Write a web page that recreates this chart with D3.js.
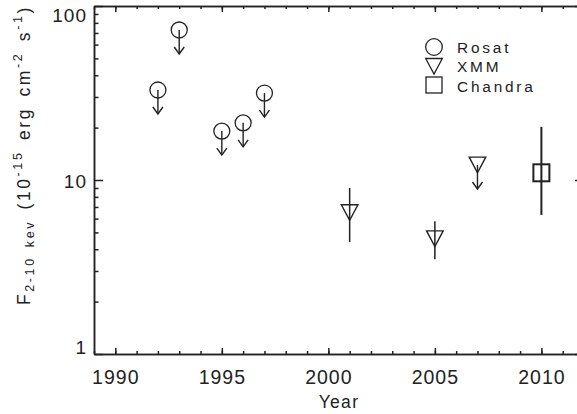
<!DOCTYPE html>
<html>
<head>
<meta charset="utf-8">
<script src="https://cdn.jsdelivr.net/npm/d3@7"></script>
<style>
  body { margin: 0; background: #fff; }
  text { font-family: "Liberation Sans", Arial, sans-serif; fill: #222; }
  .axis path, .axis line { stroke: #222; stroke-width: 1.5; }
</style>
</head>
<body>
<div id="chart"></div>
<script>
// Rosat upper limits
var rosatYear = [1992, 1993, 1995, 1996, 1997];
var rosatFlux = [32.9, 72.8, 19.1, 21.3, 31.6];

// XMM detections, with error range
var xmmYear = [2001, 2005];
var xmmFlux = [6.5, 4.6];
var xmmLow = [4.4, 3.5];
var xmmHigh = [9.0, 5.8];

// XMM upper limit
var xmmLimYear = [2007];
var xmmLimFlux = [12.2];

// Chandra detection
var chandraYear = [2010];
var chandraFlux = [11.0];
var chandraLow = [6.3];
var chandraHigh = [20.2];

var yearTicks = [1990, 1995, 2000, 2005, 2010];
var yearMinor = d3.range(1989, 2013);
var fluxTicks = [1, 10, 100];
var fluxMinor = [2, 3, 4, 5, 6, 7, 8, 9, 20, 30, 40, 50, 60, 70, 80, 90];
var legendNames = ["Rosat", "XMM", "Chandra"];

var margin = {top: 6, left: 94},
    width = 490,
    height = 348;

var svg = d3.select("#chart")
  .append("svg")
  .attr("width", 577)
  .attr("height", 414);

var g = svg.append("g")
  .attr("transform", "translate(" + margin.left + "," + margin.top + ")");

var xScale = d3.scaleLinear()
  .domain([1989, 2012])
  .range([0, width]);

var yScale = d3.scaleLog()
  .domain([1, 100])
  .range([height, 0]);

// bottom axis, labelled
var bottom = g.append("g")
  .attr("class", "axis")
  .attr("transform", "translate(0," + height + ")")
  .call(d3.axisBottom(xScale).tickValues(yearTicks).tickSize(-6).tickSizeOuter(0)
    .tickPadding(16).tickFormat(d3.format("d")));
bottom.selectAll("text")
  .style("font-size", "19.5px")
  .style("letter-spacing", "1px")
  .style("font-family", "Liberation Sans, Arial, sans-serif")
  .attr("fill", "#222");

g.append("g")
  .attr("class", "axis")
  .attr("transform", "translate(0," + height + ")")
  .call(d3.axisBottom(xScale).tickValues(yearMinor).tickSize(-3).tickSizeOuter(0).tickFormat(""));

// top axis
g.append("g")
  .attr("class", "axis")
  .call(d3.axisTop(xScale).tickValues(yearTicks).tickSize(-6).tickSizeOuter(0).tickFormat(""));
g.append("g")
  .attr("class", "axis")
  .call(d3.axisTop(xScale).tickValues(yearMinor).tickSize(-3).tickSizeOuter(0).tickFormat(""));

// left axis, labelled
var left = g.append("g")
  .attr("class", "axis")
  .call(d3.axisLeft(yScale).tickValues(fluxTicks).tickSize(-9).tickSizeOuter(0)
    .tickPadding(7).tickFormat(d3.format("d")));
left.selectAll("text")
  .style("font-size", "19px")
  .style("letter-spacing", "1px")
  .style("font-family", "Liberation Sans, Arial, sans-serif")
  .attr("fill", "#222")
  .attr("y", function (d) { return d == 100 ? 9 : (d == 1 ? -7 : 1); });

g.append("g")
  .attr("class", "axis")
  .call(d3.axisLeft(yScale).tickValues(fluxMinor).tickSize(-4.5).tickSizeOuter(0).tickFormat(""));

// right axis
g.append("g")
  .attr("class", "axis")
  .attr("transform", "translate(" + width + ",0)")
  .call(d3.axisRight(yScale).tickValues(fluxTicks).tickSize(-9).tickSizeOuter(0).tickFormat(""));
g.append("g")
  .attr("class", "axis")
  .attr("transform", "translate(" + width + ",0)")
  .call(d3.axisRight(yScale).tickValues(fluxMinor).tickSize(-4.5).tickSizeOuter(0).tickFormat(""));

var ink = "#222";

// down arrow for upper limits
function arrow(sel, x, y) {
  sel.append("line")
    .attr("x1", x).attr("x2", x)
    .attr("y1", y).attr("y2", y + 24)
    .attr("stroke", ink).attr("stroke-width", 1.4);
  sel.append("path")
    .attr("d", "M" + (x - 5) + "," + (y + 17) + "L" + x + "," + (y + 24) + "L" + (x + 5) + "," + (y + 17))
    .attr("fill", "none").attr("stroke", ink).attr("stroke-width", 1.4);
}

function triangle(x, y) {
  return "M" + (x - 8.3) + "," + (y - 7.8) + "L" + (x + 8.3) + "," + (y - 7.8) + "L" + x + "," + (y + 7.8) + "Z";
}

// Rosat
var marks = g.append("g");
rosatYear.forEach(function (yr, i) {
  var cx = xScale(yr), cy = yScale(rosatFlux[i]);
  marks.append("circle")
    .attr("cx", cx).attr("cy", cy).attr("r", 8)
    .attr("fill", "none").attr("stroke", ink).attr("stroke-width", 1.3);
  arrow(marks, cx, cy);
});

// XMM with error bars
xmmYear.forEach(function (yr, i) {
  var cx = xScale(yr), cy = yScale(xmmFlux[i]);
  marks.append("line")
    .attr("x1", cx).attr("x2", cx)
    .attr("y1", yScale(xmmHigh[i])).attr("y2", yScale(xmmLow[i]))
    .attr("stroke", ink).attr("stroke-width", 1.5);
  marks.append("path")
    .attr("d", triangle(cx, cy))
    .attr("fill", "none").attr("stroke", ink).attr("stroke-width", 1.4);
});

// XMM upper limit
xmmLimYear.forEach(function (yr, i) {
  var cx = xScale(yr), cy = yScale(xmmLimFlux[i]);
  marks.append("path")
    .attr("d", triangle(cx, cy))
    .attr("fill", "none").attr("stroke", ink).attr("stroke-width", 1.4);
  arrow(marks, cx, cy);
});

// Chandra
chandraYear.forEach(function (yr, i) {
  var cx = xScale(yr), cy = yScale(chandraFlux[i]);
  marks.append("line")
    .attr("x1", cx).attr("x2", cx)
    .attr("y1", yScale(chandraHigh[i])).attr("y2", yScale(chandraLow[i]))
    .attr("stroke", ink).attr("stroke-width", 2);
  marks.append("rect")
    .attr("x", cx - 8).attr("y", cy - 8.5)
    .attr("width", 16).attr("height", 17)
    .attr("fill", "none").attr("stroke", ink).attr("stroke-width", 2);
});

// legend
var legend = svg.append("g").attr("transform", "translate(434,47)");
legend.append("circle").attr("cx", 0).attr("cy", 0).attr("r", 8.3)
  .attr("fill", "none").attr("stroke", ink).attr("stroke-width", 1.3);
legend.append("path").attr("d", triangle(0, 19.3))
  .attr("fill", "none").attr("stroke", ink).attr("stroke-width", 1.3);
legend.append("rect").attr("x", -8).attr("y", 30).attr("width", 16).attr("height", 16)
  .attr("fill", "none").attr("stroke", ink).attr("stroke-width", 1.3);
legend.selectAll("text.name")
  .data(legendNames)
  .enter()
  .append("text")
    .attr("class", "name")
    .attr("x", 23)
    .attr("y", function (d, i) { return 5.7 + i * 19.5; })
    .style("font-size", "15.4px")
    .style("letter-spacing", "2.8px")
    .text(function (d) { return d; });

// axis titles
svg.append("text")
  .attr("x", 339).attr("y", 408)
  .attr("text-anchor", "middle")
  .style("font-size", "17.5px")
  .style("letter-spacing", "1.3px")
  .text("Year");

var ytitle = svg.append("text")
  .attr("transform", "translate(30,305) rotate(-90)")
  .style("font-size", "17.5px")
  .style("letter-spacing", "2.6px")
  .style("word-spacing", "3px");
ytitle.append("tspan").text("F");
ytitle.append("tspan").attr("dy", 4).style("font-size", "12.5px").text("2-10 kev");
ytitle.append("tspan").attr("dy", -4).text(" (10");
ytitle.append("tspan").attr("dy", -8).style("font-size", "12.5px").text("-15");
ytitle.append("tspan").attr("dy", 8).text(" erg cm");
ytitle.append("tspan").attr("dy", -8).style("font-size", "12.5px").text("-2");
ytitle.append("tspan").attr("dy", 8).text(" s");
ytitle.append("tspan").attr("dy", -8).style("font-size", "12.5px").text("-1");
ytitle.append("tspan").attr("dy", 8).text(")");
</script>
</body>
</html>
